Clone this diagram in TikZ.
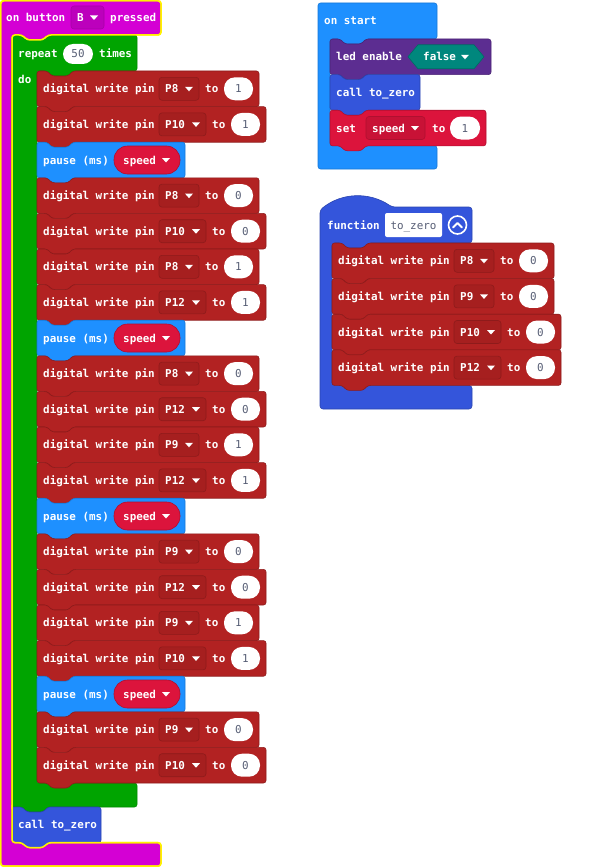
\documentclass[tikz,border=0pt]{standalone}
\usepackage{fontspec}
\setmainfont{DejaVu Sans Mono}
\definecolor{mag}{HTML}{D400D4}
\definecolor{magedge}{HTML}{A800A8}
\definecolor{magdd}{HTML}{BC00BC}
\definecolor{sel}{HTML}{FFF200}
\definecolor{loopg}{HTML}{00A400}
\definecolor{loopedge}{HTML}{008A00}
\definecolor{pinred}{HTML}{B22222}
\definecolor{pinedge}{HTML}{8E1B1B}
\definecolor{pindd}{HTML}{A61F1F}
\definecolor{basicb}{HTML}{1E90FF}
\definecolor{basicedge}{HTML}{1878D6}
\definecolor{varred}{HTML}{DC143C}
\definecolor{varedge}{HTML}{B01030}
\definecolor{vardd}{HTML}{C81236}
\definecolor{ledp}{HTML}{5C2D91}
\definecolor{ledpedge}{HTML}{4A2474}
\definecolor{logict}{HTML}{00877D}
\definecolor{logicedge}{HTML}{006C64}
\definecolor{funcb}{HTML}{3455DB}
\definecolor{funcedge}{HTML}{2A44AF}
\definecolor{valgrey}{HTML}{575E75}
\tikzset{
 lbl/.style={text=white, font=\bfseries\fontsize{10.9}{12}\selectfont, inner sep=0pt, anchor=base west},
 val/.style={text=valgrey, font=\fontsize{10.9}{12}\selectfont, inner sep=0pt, anchor=base},
 blkedge/.style={line width=0.6pt, rounded corners=2.5pt},
}
\newcommand\stmtblk[5]{%
 \filldraw[fill=#4,draw=#5,blkedge]
 (#1,#2) -- ++(10,0) -- ++(5,5) -- ++(16,0) -- ++(5,-5) -- ++({(#3)-36},0) -- ++(0,35.6)
 -- ++({36-(#3)},0) -- ++(-5,5) -- ++(-16,0) -- ++(-5,-5) -- ++(-10,0) -- cycle;}
\newcommand\ddarrow[2]{%
 \fill[white] ({(#1)-4},{(#2)-2}) -- ({(#1)+4},{(#2)-2}) -- ({#1},{(#2)+2.5}) -- cycle;}
\newcommand\dwblk[6]{%
 \pgfmathsetmacro\bw{222+#6}%
 \stmtblk{#2}{#3}{\bw}{pinred}{pinedge}
 \node[lbl] (#1-l) at ({#2+6},{#3+21.8}) {digital write pin};
 \filldraw[fill=pindd,draw=pinedge,line width=0.6pt,rounded corners=3pt] ({#2+122},{#3+6.3}) rectangle ({#2+162+#6},{#3+29.3});
 \node[lbl] (#1-p) at ({#2+128},{#3+21.8}) {#4};
 \ddarrow{#2+152+#6}{#3+17.8}
 \node[lbl] (#1-t) at ({#2+168+#6},{#3+21.8}) {to};
 \fill[white,rounded corners=11pt] ({#2+187+#6},{#3+6.3}) rectangle ({#2+216+#6},{#3+29.3});
 \node[val] (#1-v) at ({#2+201.5+#6},{#3+21.8}) {#5};}
\newcommand\pzblk[3]{%
 \stmtblk{#2}{#3}{148}{basicb}{basicedge}
 \node[lbl] (#1-l) at ({#2+6},{#3+21.8}) {pause (ms)};
 \filldraw[fill=varred,draw=varedge,line width=0.6pt,rounded corners=13.5pt] ({#2+77},{#3+3.8}) rectangle ({#2+143},{#3+31.8});
 \node[lbl] (#1-s) at ({#2+86},{#3+21.8}) {speed};
 \ddarrow{#2+129}{#3+17.8}}
\begin{document}
\begin{tikzpicture}[x=1pt,y=-1pt]
\useasboundingbox (0,0) rectangle (600,867);
% ---------- on button B pressed ----------
\filldraw[fill=mag,draw=sel,line width=1.5pt,rounded corners=3pt]
 (0.7,0.7) -- (161,0.7) -- (161,35) -- (48,35) -- (43,40) -- (27,40) -- (22,35) -- (12,35)
 -- (12,842.6) -- (22,842.6) -- (27,847.6) -- (43,847.6) -- (48,842.6) -- (161,842.6)
 -- (161,866.2) -- (0.7,866.2) -- cycle;
\node[lbl] (onbtn) at (6,21.5) {on button};
\filldraw[fill=magdd,draw=magedge,line width=0.6pt,rounded corners=3pt] (71,6) rectangle (104,29);
\node[lbl] (btnB) at (77,21.5) {B};
\ddarrow{94}{17.5}
\node[lbl] (pressed) at (110,21.5) {pressed};
% ---------- repeat ----------
\filldraw[fill=loopg,draw=loopedge,blkedge]
 (12,35) -- (22,35) -- (27,40) -- (43,40) -- (48,35) -- (137,35) -- (137,71) -- (73,71) -- (68,76)
 -- (52,76) -- (47,71) -- (37,71) -- (37,783) -- (137,783) -- (137,807) -- (48,807) -- (43,812)
 -- (27,812) -- (22,807) -- (12,807) -- cycle;
\node[lbl] (repeat) at (18,57) {repeat};
\fill[white,rounded corners=10pt] (63,44) rectangle (93,64);
\node[val] (fifty) at (78,58) {50};
\node[lbl] (times) at (99,57) {times};
\node[lbl] (do) at (18,84) {do};
% ---------- inner stack ----------
\foreach \i/\k/\p/\v/\e in {1/d/P8/1/0, 2/d/P10/1/7, 3/p/x/x/0, 4/d/P8/0/0, 5/d/P10/0/7,
  6/d/P8/1/0, 7/d/P12/1/7, 8/p/x/x/0, 9/d/P8/0/0, 10/d/P12/0/7, 11/d/P9/1/0, 12/d/P12/1/7,
  13/p/x/x/0, 14/d/P9/0/0, 15/d/P12/0/7, 16/d/P9/1/0, 17/d/P10/1/7, 18/p/x/x/0,
  19/d/P9/0/0, 20/d/P10/0/7}{
  \pgfmathsetmacro\btop{71+(\i-1)*35.6}
  \if\k d\dwblk{r\i}{37}{\btop}{\p}{\v}{\e}\else\pzblk{r\i}{37}{\btop}\fi
}
% ---------- call to_zero (bottom) ----------
\stmtblk{12}{807}{89}{funcb}{funcedge}
\node[lbl] (callb) at (18,828.8) {call to\_zero};
% selection outline on top
\draw[sel,line width=1.5pt,rounded corners=3pt]
 (0.7,0.7) -- (161,0.7) -- (161,35) -- (48,35) -- (43,40) -- (27,40) -- (22,35) -- (12,35)
 -- (12,842.6) -- (22,842.6) -- (27,847.6) -- (43,847.6) -- (48,842.6) -- (161,842.6)
 -- (161,866.2) -- (0.7,866.2) -- cycle;
% ---------- on start ----------
\filldraw[fill=basicb,draw=basicedge,blkedge]
 (318,3) -- (437,3) -- (437,39) -- (366,39) -- (361,44) -- (345,44) -- (340,39) -- (330,39)
 -- (330,145.8) -- (437,145.8) -- (437,169) -- (318,169) -- cycle;
\node[lbl] (onstart) at (324,25) {on start};
\stmtblk{330}{39}{161}{ledp}{ledpedge}
\node[lbl] (led) at (336,60.8) {led enable};
\filldraw[fill=logict,draw=logicedge,line width=0.6pt]
 (408,56.8) -- (418,44.8) -- (474,44.8) -- (484,56.8) -- (474,68.8) -- (418,68.8) -- cycle;
\node[lbl] (false) at (423,60.8) {false};
\ddarrow{465}{56.8}
\stmtblk{330}{74.6}{90}{funcb}{funcedge}
\node[lbl] (callr) at (336,96.4) {call to\_zero};
\stmtblk{330}{110.2}{156}{varred}{varedge}
\node[lbl] (set) at (336,132) {set};
\filldraw[fill=vardd,draw=varedge,line width=0.6pt,rounded corners=3pt] (366,116.5) rectangle (425,139.5);
\node[lbl] (setvar) at (372,132) {speed};
\ddarrow{415}{128}
\node[lbl] (setto) at (432,132) {to};
\fill[white,rounded corners=11pt] (450,116.5) rectangle (480,139.5);
\node[val] (setval) at (465,132) {1};
% ---------- function to_zero ----------
\filldraw[fill=funcb,draw=funcedge,line width=0.6pt,rounded corners=3pt]
 (320,210) .. controls (342,192) and (370,192) .. (392,207) -- (472,207) -- (472,243) -- (368,243)
 -- (363,248) -- (347,248) -- (342,243) -- (332,243) -- (332,385.4) -- (472,385.4) -- (472,409)
 -- (320,409) -- cycle;
\node[lbl] (function) at (327,229) {function};
\fill[white,rounded corners=2pt] (385,213) rectangle (442,237);
\node[val] (fname) at (413.5,229) {to\_zero};
\draw[white,line width=1.6pt] (457.5,225) circle[radius=9];
\draw[white,line width=1.8pt,line cap=round,line join=round] (453,227.5) -- (457.5,223) -- (462,227.5);
\foreach \j/\p/\e in {0/P8/0, 1/P9/0, 2/P10/7, 3/P12/7}{
  \pgfmathsetmacro\btop{243+\j*35.6}
  \dwblk{f\j}{332}{\btop}{\p}{0}{\e}
}
\end{tikzpicture}
\end{document}
